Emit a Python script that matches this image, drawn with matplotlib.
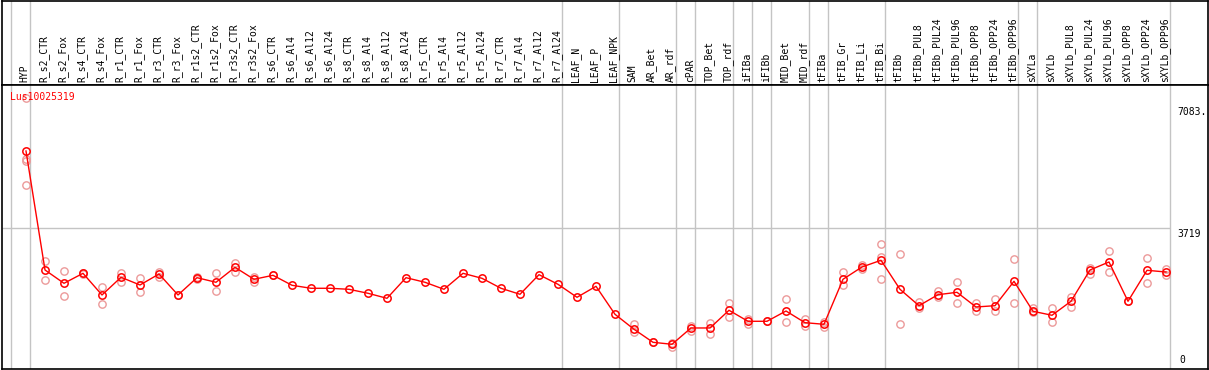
import numpy as np
import matplotlib
matplotlib.use("Agg")
import matplotlib.pyplot as plt

# ---------------------------------------------------------
# Data
# ---------------------------------------------------------

gene = "Lus10025319"

samples = [
    "HYP", "R_s2_CTR", "R_s2_Fox", "R_s4_CTR", "R_s4_Fox", "R_r1_CTR", "R_r1_Fox",
    "R_r3_CTR", "R_r3_Fox", "R_r1s2_CTR", "R_r1s2_Fox", "R_r3s2_CTR", "R_r3s2_Fox",
    "R_s6_CTR", "R_s6_Al4", "R_s6_Al12", "R_s6_Al24", "R_s8_CTR", "R_s8_Al4",
    "R_s8_Al12", "R_s8_Al24", "R_r5_CTR", "R_r5_Al4", "R_r5_Al12", "R_r5_Al24",
    "R_r7_CTR", "R_r7_Al4", "R_r7_Al12", "R_r7_Al24", "LEAF_N", "LEAF_P", "LEAF_NPK",
    "SAM", "AR_Bet", "AR_rdf", "cPAR", "TOP_Bet", "TOP_rdf", "iFIBa", "iFIBb",
    "MID_Bet", "MID_rdf", "tFIBa", "tFIB_Gr", "tFIB_Li", "tFIB_Bi", "tFIBb",
    "tFIBb_PUL8", "tFIBb_PUL24", "tFIBb_PUL96", "tFIBb_OPP8", "tFIBb_OPP24",
    "tFIBb_OPP96", "sXYLa", "sXYLb", "sXYLb_PUL8", "sXYLb_PUL24", "sXYLb_PUL96",
    "sXYLb_OPP8", "sXYLb_OPP24", "sXYLb_OPP96",
]

means = [
    5846, 2557, 2189, 2465, 1866, 2355, 2142, 2446, 1866, 2344, 2217, 2631, 2300,
    2410, 2134, 2051, 2051, 2023, 1913, 1774, 2344, 2217, 2023, 2465, 2327, 2051,
    1885, 2427, 2161, 1802, 2106, 1332, 918, 558, 503, 954, 954, 1443, 1139, 1139,
    1423, 1100, 1056, 2300, 2640, 2825, 2023, 1570, 1874, 1940, 1534, 1570, 2244,
    1415, 1305, 1692, 2557, 2778, 1692, 2548, 2501,
]

replicates = [
    [7324, 5625, 5569, 4906], [2797, 2272], [2521, 1830], [2482, 2446],
    [2078, 1609], [2482, 2225], [2327, 1957], [2510, 2371], [1866],
    [2371, 2316], [2474, 1968], [2742, 2501], [2371, 2233], [2410],
    [], [], [], [], [], [], [], [], [], [], [], [], [], [], [], [], [], [],
    [1056, 835], [558], [437, 547], [1009, 871], [1100, 779], [1645, 1266],
    [1194, 1064], [1139], [1747, 1111], [1202, 1001], [1119, 990],
    [2501, 2142], [2695, 2576], [3267, 2916, 2300], [2991, 1056],
    [1664, 1515], [1985, 1802], [2217, 1636], [1653, 1423], [1763, 1423],
    [2852, 1636], [1498, 1387], [1498, 1111], [1819, 1542], [2620, 2446],
    [3082, 2493], [1692], [2880, 2189], [2576, 2418],
]

# group boundaries (index of first sample in each group, plus the end)
group_starts = [0, 1, 29, 32, 35, 36, 38, 39, 40, 42, 43, 46, 53, 54, 61]

y_ticks = [7083, 3719, 0]
y_tick_labels = ["7083.", "3719", "0"]

# ---------------------------------------------------------
# Plotting
# ---------------------------------------------------------

W, H = 1209, 370
fig = plt.figure(figsize=(W / 100, H / 100), dpi=100)

red = "#ff0000"
pink = "#ec9a9a"
grid = "#c4c4c4"
mono = "DejaVu Sans Mono"

x = np.arange(len(samples))
xlim = (-24 / 19, 1182 / 19)
ylim = (-180, 7670)
bound_off = 15 / 19

# header axes
axh = fig.add_axes([2 / W, (H - 85) / H, 1206 / W, 84 / H])
axh.set_xlim(xlim)
axh.set_ylim(0, 1)
axh.set_xticks([])
axh.set_yticks([])
for b in group_starts:
    axh.axvline(b - bound_off, color=grid, lw=1)
for i, name in enumerate(samples):
    axh.text(i - 0.06, 0.03, name, rotation=90, ha="center", va="bottom",
             fontsize=7, family=mono, color="black")
for s in axh.spines.values():
    s.set_linewidth(1.2)

# main axes
ax = fig.add_axes([2 / W, 1 / H, 1206 / W, 284 / H])
ax.set_xlim(xlim)
ax.set_ylim(ylim)
ax.set_xticks([])
ax.set_yticks([])
for s in ax.spines.values():
    s.set_linewidth(1.2)

for b in group_starts:
    ax.axvline(b - bound_off, color=grid, lw=1, zorder=1)
ax.hlines(y_ticks[1], xlim[0], group_starts[-1] - bound_off, color=grid, lw=1, zorder=1)

# replicates
rx = [i for i, reps in enumerate(replicates) for _ in reps]
ry = [v for reps in replicates for v in reps]
ax.plot(rx, ry, "o", ms=5.3, mfc="none", mec=pink, mew=1, zorder=2)

# means
ax.plot(x, means, "-", color=red, lw=1, zorder=3)
ax.plot(x, means, "o", ms=5.3, mfc="none", mec=red, mew=1.1, zorder=4)

# right-hand value labels
lab_x = (1177 - 2) / 1206
for v, lab in zip(y_ticks[:2], y_tick_labels[:2]):
    ax.annotate(lab, (lab_x, v), xycoords=("axes fraction", "data"),
                xytext=(0, -0.5), textcoords="offset points",
                ha="left", va="top", fontsize=7, family=mono)
ax.annotate(y_tick_labels[2], (lab_x + 0.002, 0), xycoords="axes fraction",
            xytext=(0, 3), textcoords="offset points",
            ha="left", va="bottom", fontsize=7, family=mono)

ax.text(8 / 1206, 1 - 12 / 284, gene, transform=ax.transAxes, ha="left",
        va="center", fontsize=7, family=mono, color=red, zorder=5)

fig.savefig("out.png", dpi=100)
